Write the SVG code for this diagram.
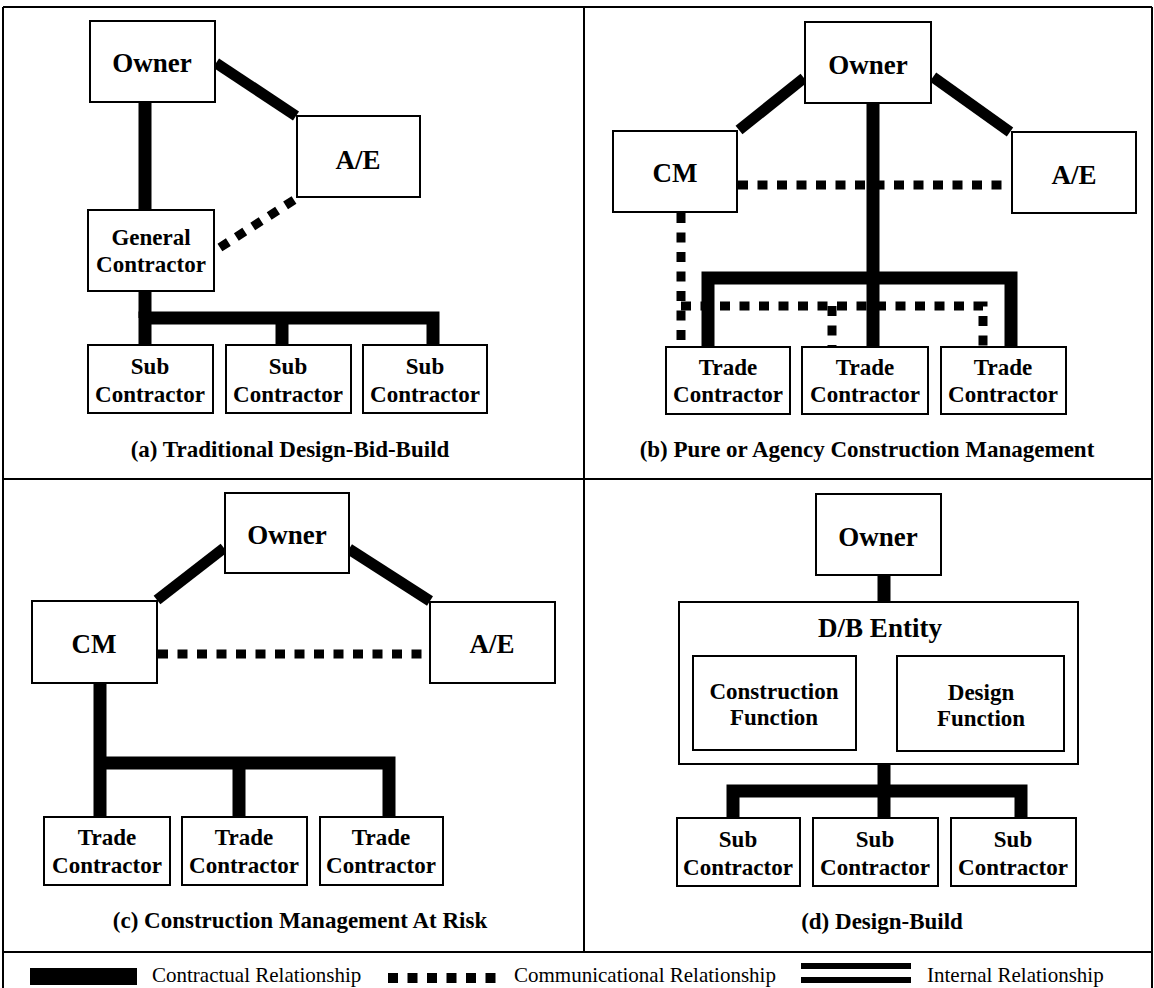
<svg xmlns="http://www.w3.org/2000/svg" width="1154" height="988" viewBox="0 0 1154 988">
<style>
.frame{stroke:#000;stroke-width:2;fill:none}
.box{fill:#fff;stroke:#000;stroke-width:2}
.t{font-family:"Liberation Serif","Times New Roman",serif;font-weight:bold;fill:#000;text-anchor:middle}
.big{font-size:27px}
.mid{font-size:23px}
.cap{font-size:23px}
.leg{font-family:"Liberation Serif","Times New Roman",serif;font-size:21px;fill:#000}
.con{stroke:#000;stroke-width:13;fill:none;stroke-linejoin:miter}
.diag{stroke:#000;stroke-width:11;fill:none}
.comm{stroke:#000;stroke-width:9;fill:none;stroke-dasharray:10 9.5}
.int{stroke:#000;stroke-width:6;fill:none}
</style>
<rect width="1154" height="988" fill="#fff"/>
<g id="frame">
<line class="frame" x1="3" y1="7" x2="1152" y2="7"/>
<line class="frame" x1="3" y1="7" x2="3" y2="988"/>
<line class="frame" x1="1152" y1="7" x2="1152" y2="988"/>
<line class="frame" x1="584" y1="7" x2="584" y2="952"/>
<line class="frame" x1="3" y1="479" x2="1152" y2="479"/>
<line class="frame" x1="3" y1="952" x2="1152" y2="952"/>
</g>
<g id="connectors">
<!-- (a) -->
<line class="con" x1="145" y1="102" x2="145" y2="210"/>
<line class="diag" x1="216" y1="63" x2="296" y2="116"/>
<line class="comm" x1="294" y1="200" x2="216" y2="250"/>
<path class="con" d="M145,291 V318"/>
<path class="con" d="M145,345 V318 H433 V345"/>
<path class="con" d="M282,318 V345"/>
<!-- (b) -->
<line class="diag" x1="804" y1="78" x2="739" y2="130"/>
<line class="diag" x1="933" y1="77" x2="1010" y2="132"/>
<line class="comm" x1="738" y1="185" x2="1012" y2="185"/>
<path class="comm" d="M681,213 V347"/>
<path class="comm" d="M681,306 H983 V347"/>
<path class="comm" d="M832,306 V347"/>
<path class="con" d="M708,347 V278 H1011 V347"/>
<path class="con" d="M873,103 V347"/>
<!-- (c) -->
<line class="diag" x1="224" y1="548" x2="157" y2="600"/>
<line class="diag" x1="349" y1="549" x2="430" y2="601"/>
<line class="comm" x1="158" y1="654" x2="430" y2="654"/>
<path class="con" d="M100,683 V817"/>
<path class="con" d="M100,763 H389 V817"/>
<path class="con" d="M239,763 V817"/>
<!-- (d) -->
<path class="con" d="M884,575 V602"/>
<path class="con" d="M884,764 V818"/>
<path class="con" d="M733,818 V791 H1021 V818"/>
<line class="int" x1="856" y1="696" x2="897" y2="696"/>
<line class="int" x1="856" y1="709" x2="897" y2="709"/>
</g>
<!-- Panel (a) -->
<g id="a-owner"><rect class="box" x="90" y="21" width="125" height="81"/><text class="t big" x="152" y="72">Owner</text></g>
<g id="a-ae"><rect class="box" x="297" y="116" width="123" height="81"/><text class="t big" x="358" y="169">A/E</text></g>
<g id="a-gc"><rect class="box" x="88" y="210" width="126" height="81"/><text class="t mid" x="151" y="245">General</text><text class="t mid" x="151" y="272">Contractor</text></g>
<g id="a-sub1"><rect class="box" x="88" y="345" width="125" height="68"/><text class="t mid" x="150" y="374">Sub</text><text class="t mid" x="150" y="402">Contractor</text></g>
<g id="a-sub2"><rect class="box" x="226" y="345" width="125" height="68"/><text class="t mid" x="288" y="374">Sub</text><text class="t mid" x="288" y="402">Contractor</text></g>
<g id="a-sub3"><rect class="box" x="363" y="345" width="124" height="68"/><text class="t mid" x="425" y="374">Sub</text><text class="t mid" x="425" y="402">Contractor</text></g>
<text id="a-caption" class="t cap" x="290" y="457">(a) Traditional Design-Bid-Build</text>
<!-- Panel (b) -->
<g id="b-owner"><rect class="box" x="805" y="22" width="126" height="81"/><text class="t big" x="868" y="74">Owner</text></g>
<g id="b-cm"><rect class="box" x="613" y="131" width="124" height="81"/><text class="t big" x="675" y="182">CM</text></g>
<g id="b-ae"><rect class="box" x="1012" y="132" width="124" height="81"/><text class="t big" x="1074" y="184">A/E</text></g>
<g id="b-tc1"><rect class="box" x="666" y="347" width="124" height="67"/><text class="t mid" x="728" y="375">Trade</text><text class="t mid" x="728" y="402">Contractor</text></g>
<g id="b-tc2"><rect class="box" x="802" y="347" width="126" height="67"/><text class="t mid" x="865" y="375">Trade</text><text class="t mid" x="865" y="402">Contractor</text></g>
<g id="b-tc3"><rect class="box" x="941" y="347" width="125" height="67"/><text class="t mid" x="1003" y="375">Trade</text><text class="t mid" x="1003" y="402">Contractor</text></g>
<text id="b-caption" class="t cap" x="867" y="457">(b) Pure or Agency Construction Management</text>
<!-- Panel (c) -->
<g id="c-owner"><rect class="box" x="225" y="493" width="124" height="80"/><text class="t big" x="287" y="544">Owner</text></g>
<g id="c-cm"><rect class="box" x="32" y="601" width="125" height="82"/><text class="t big" x="94" y="653">CM</text></g>
<g id="c-ae"><rect class="box" x="430" y="602" width="125" height="81"/><text class="t big" x="492" y="653">A/E</text></g>
<g id="c-tc1"><rect class="box" x="44" y="817" width="126" height="68"/><text class="t mid" x="107" y="845">Trade</text><text class="t mid" x="107" y="873">Contractor</text></g>
<g id="c-tc2"><rect class="box" x="182" y="817" width="125" height="68"/><text class="t mid" x="244" y="845">Trade</text><text class="t mid" x="244" y="873">Contractor</text></g>
<g id="c-tc3"><rect class="box" x="320" y="817" width="123" height="68"/><text class="t mid" x="381" y="845">Trade</text><text class="t mid" x="381" y="873">Contractor</text></g>
<text id="c-caption" class="t cap" x="300" y="928">(c) Construction Management At Risk</text>
<!-- Panel (d) -->
<g id="d-owner"><rect class="box" x="816" y="494" width="125" height="81"/><text class="t big" x="878" y="546">Owner</text></g>
<g id="d-entity"><rect class="box" x="679" y="602" width="399" height="162"/><text class="t big" x="880" y="637">D/B Entity</text></g>
<g id="d-construction"><rect class="box" x="693" y="656" width="163" height="94"/><text class="t mid" x="774" y="699">Construction</text><text class="t mid" x="774" y="725">Function</text></g>
<g id="d-design"><rect class="box" x="897" y="656" width="167" height="95"/><text class="t mid" x="981" y="700">Design</text><text class="t mid" x="981" y="726">Function</text></g>
<g id="d-sub1"><rect class="box" x="677" y="818" width="123" height="68"/><text class="t mid" x="738" y="847">Sub</text><text class="t mid" x="738" y="875">Contractor</text></g>
<g id="d-sub2"><rect class="box" x="813" y="818" width="125" height="68"/><text class="t mid" x="875" y="847">Sub</text><text class="t mid" x="875" y="875">Contractor</text></g>
<g id="d-sub3"><rect class="box" x="951" y="818" width="125" height="68"/><text class="t mid" x="1013" y="847">Sub</text><text class="t mid" x="1013" y="875">Contractor</text></g>
<text id="d-caption" class="t cap" x="882" y="929">(d) Design-Build</text>
<!-- Legend -->
<g id="legend">
<rect x="30" y="968" width="107" height="17" fill="#000"/>
<text class="leg" x="152" y="982">Contractual Relationship</text>
<line class="comm" x1="388" y1="978" x2="496" y2="978" style="stroke-width:10"/>
<text class="leg" x="514" y="982">Communicational Relationship</text>
<line class="int" x1="801" y1="966" x2="911" y2="966"/>
<line class="int" x1="801" y1="980" x2="911" y2="980"/>
<text class="leg" x="927" y="982">Internal Relationship</text>
</g>
</svg>
